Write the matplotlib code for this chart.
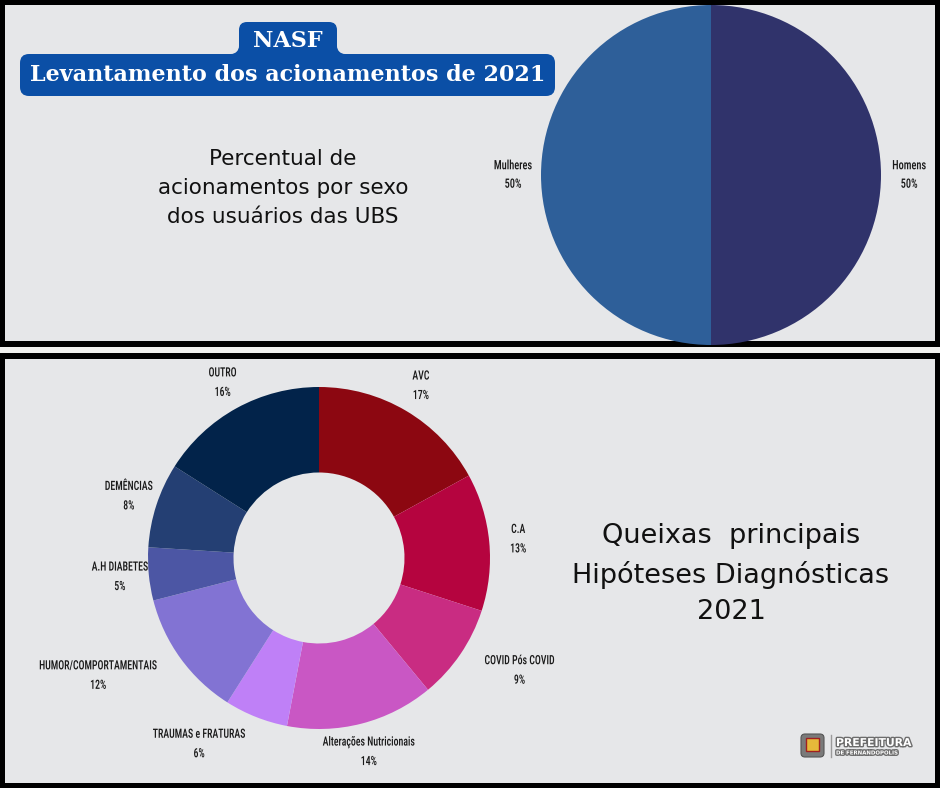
import matplotlib
matplotlib.use("Agg")
import matplotlib.pyplot as plt
from matplotlib import font_manager as fm
from matplotlib.patches import Rectangle, FancyBboxPatch, Circle
from matplotlib.transforms import Affine2D
import matplotlib.patheffects as pe

# ---------------- data ----------------
sexo_labels = ["Homens", "Mulheres"]
sexo_values = [50, 50]
sexo_colors = ["#30336b", "#2e5f99"]

queixas_labels = ["AVC", "C.A", "COVID Pós COVID", "Alterações Nutricionais",
                  "TRAUMAS e FRATURAS", "HUMOR/COMPORTAMENTAIS", "A.H DIABETES",
                  "DEMÊNCIAS", "OUTRO"]
queixas_values = [17, 13, 9, 14, 6, 12, 5, 8, 16]
queixas_colors = ["#8c0711", "#b5043f", "#c92c82", "#c957c4", "#bf80f7",
                  "#8273d3", "#4c56a4", "#243f73", "#02234a"]

title_tab = "NASF"
title_main = "Levantamento dos acionamentos de 2021"
text_top = "Percentual de\nacionamentos por sexo\ndos usuários das UBS"
text_bottom = "Queixas  principais\nHipóteses Diagnósticas\n2021"

W, H = 940, 788
PANEL = "#e6e7e9"
BLUE = "#0b4fa6"
BODY_FONT = ["DejaVu Sans"]


def pick_condensed():
    entries = fm.fontManager.ttflist
    names = {f.name for f in entries}
    for p in ["Liberation Sans Narrow", "Roboto Condensed", "Open Sans Condensed",
              "Noto Sans Condensed", "DejaVu Sans Condensed", "Noto Sans Display Condensed"]:
        if p in names:
            return p, "normal", True
    cond = [f for f in entries
            if str(f.stretch) in ("condensed", "semi-condensed", "extra-condensed")
            and str(f.weight) in ("400", "normal", "regular", "book")
            and str(f.style) == "normal"]
    for p in ["Noto Sans", "Open Sans", "Roboto", "DejaVu Sans", "Lato", "Inter"]:
        for f in cond:
            if f.name == p:
                return p, f.stretch, True
    if cond:
        return cond[0].name, cond[0].stretch, True
    return "Roboto", "normal", False


COND_NAME, COND_STRETCH, IS_COND = pick_condensed()
LABEL_FONT = [COND_NAME, "DejaVu Sans"]
SQ_DONUT = 0.77 if IS_COND else 0.64
SQ_TOP = 0.80 if IS_COND else 0.68


class HSqueeze(pe.AbstractPathEffect):
    """Compress text horizontally around the text's anchor point."""

    def __init__(self, text, s):
        super().__init__()
        self.text = text
        self.s = s

    def draw_path(self, renderer, gc, tpath, affine, rgbFace=None):
        x0 = self.text.get_transform().transform(self.text.get_unitless_position())[0]
        tr = affine + Affine2D().translate(-x0, 0).scale(self.s, 1).translate(x0, 0)
        renderer.draw_path(gc, tpath, tr, rgbFace)


fig = plt.figure(figsize=(W / 100, H / 100), dpi=100, facecolor="black")
bg = fig.add_axes([0, 0, 1, 1])
bg.set_xlim(0, W)
bg.set_ylim(H, 0)
bg.axis("off")
bg.set_facecolor("black")

# panels
bg.add_patch(Rectangle((0, 347), W, 6, color="#f1f1ef", lw=0))
bg.add_patch(Rectangle((5, 5), W - 10, 336, color=PANEL, lw=0))
bg.add_patch(Rectangle((5, 359), W - 10, 424, color=PANEL, lw=0))

# title boxes (tab with concave joints + main bar)
bg.add_patch(Rectangle((231, 46), 8, 9, fc=BLUE, ec="none", zorder=2.8))
bg.add_patch(Rectangle((337, 46), 8, 9, fc=BLUE, ec="none", zorder=2.8))
bg.add_patch(Circle((231, 46), 8, fc=PANEL, ec="none", zorder=2.9))
bg.add_patch(Circle((345, 46), 8, fc=PANEL, ec="none", zorder=2.9))
bg.add_patch(FancyBboxPatch((239, 22), 98, 40, boxstyle="round,pad=0,rounding_size=8",
                            fc=BLUE, ec="none", zorder=3))
bg.add_patch(FancyBboxPatch((20, 54), 535, 42, boxstyle="round,pad=0,rounding_size=9",
                            fc=BLUE, ec="none", zorder=3))
bg.text(288, 41, title_tab, color="white", fontsize=16, fontweight="bold",
        family="DejaVu Serif", ha="center", va="center", zorder=4)
bg.text(287.5, 75, title_main, color="white", fontsize=16, fontweight="bold",
        family="DejaVu Serif", ha="center", va="center", zorder=4)

bg.text(283, 188, text_top, fontsize=15.5, family=BODY_FONT, color="#111111",
        ha="center", va="center", linespacing=1.55, multialignment="center")
bg.text(731, 574, text_bottom, fontsize=19.5, family=BODY_FONT, color="#111111",
        ha="center", va="center", linespacing=1.52, multialignment="center")


def px_axes(cx, cy, r):
    return fig.add_axes([(cx - r) / W, 1 - (cy + r) / H, 2 * r / W, 2 * r / H])


def place_labels(wedges, texts):
    for w, t in zip(wedges, texts):
        mid = (w.theta1 + w.theta2) / 2.0
        cw = (90 - mid) % 360  # clockwise from top
        if 100 < cw < 160:
            t.set_ha("left")
        elif 200 < cw < 262:
            t.set_ha("right")
        else:
            t.set_ha("center")
        t.set_multialignment("center")
        t.set_va("center")


# top pie
ax1 = px_axes(711, 175, 170)
lab1 = [f"{n}\n{v}%" for n, v in zip(sexo_labels, sexo_values)]
w1, t1 = ax1.pie(sexo_values, colors=sexo_colors, startangle=90, counterclock=False,
                 labels=lab1, labeldistance=1.165, radius=1,
                 wedgeprops=dict(linewidth=0),
                 textprops=dict(fontsize=9.3, family=LABEL_FONT, fontweight="medium",
                                fontstretch=COND_STRETCH, color="#1a1a1a",
                                linespacing=1.55))
for w in w1:
    clip = Rectangle((5, 5), W - 10, 336, transform=bg.transData)
    w.set_clip_path(clip)
for t in t1:
    t.set_ha("center")
    t.set_va("center")
    t.set_multialignment("center")
    t.set_path_effects([HSqueeze(t, SQ_TOP)])
ax1.set_xlim(-1, 1)
ax1.set_ylim(-1, 1)

# donut
ax2 = px_axes(319, 558, 171)
lab2 = [f"{n}\n{v}%" for n, v in zip(queixas_labels, queixas_values)]
w2, t2 = ax2.pie(queixas_values, colors=queixas_colors, startangle=90, counterclock=False,
                 labels=lab2, labeldistance=1.17, radius=1,
                 wedgeprops=dict(width=0.5, linewidth=0),
                 textprops=dict(fontsize=9.2, family=LABEL_FONT, fontweight="medium",
                                fontstretch=COND_STRETCH, color="#1a1a1a",
                                linespacing=1.65))
place_labels(w2, t2)
for t in t2:
    t.set_path_effects([HSqueeze(t, SQ_DONUT)])
ax2.set_xlim(-1, 1)
ax2.set_ylim(-1, 1)

# logo (bottom right)
bg.add_patch(FancyBboxPatch((801, 734), 23, 23, boxstyle="round,pad=0,rounding_size=4",
                            fc="#7a7a7a", ec="#555555", lw=0.8, zorder=3))
bg.add_patch(Rectangle((806, 738), 13, 13, fc="#e6b93a", ec="#a02020", lw=1, zorder=4))
bg.plot([831, 831], [735, 757], color="#9a9a9a", lw=1, zorder=3)
shadow = [pe.withStroke(linewidth=2, foreground="#6d6d6d")]
bg.text(836, 743, "PREFEITURA", color="white", fontsize=7.8, fontweight="bold",
        family="DejaVu Sans", ha="left", va="center", path_effects=shadow, zorder=4)
bg.text(836, 753, "DE FERNANDOPOLIS", color="white", fontsize=3.9, fontweight="bold",
        family="DejaVu Sans", ha="left", va="center", path_effects=shadow, zorder=4)

fig.savefig("out.png", dpi=100, facecolor="black")
